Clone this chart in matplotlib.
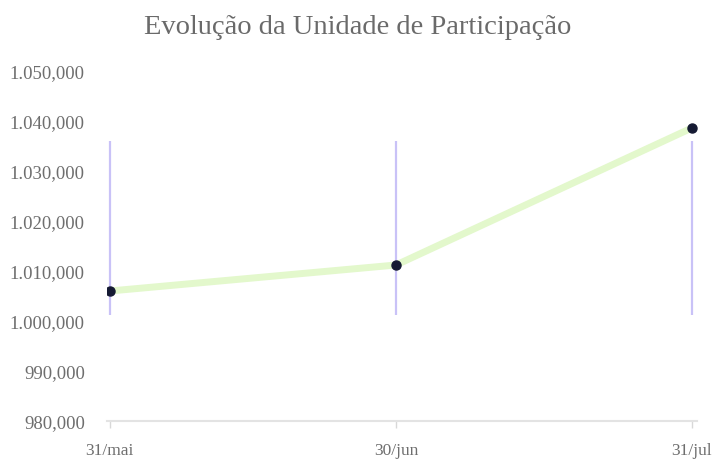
import numpy as np
import pandas as pd
import matplotlib.pyplot as plt
import matplotlib.dates as mdates

# data
dates = pd.to_datetime(["2024-05-31", "2024-06-30", "2024-07-31"])
date_labels = ["31/mai", "30/jun", "31/jul"]
unit_value = [1006000, 1011200, 1038600]
range_low = [1001200, 1001200, 1001200]
range_high = [1036000, 1036000, 1036000]

y_ticks = [980000, 990000, 1000000, 1010000, 1020000, 1030000, 1040000, 1050000]
y_tick_labels = ["980,000", "990,000", "1.000,000", "1.010,000", "1.020,000",
                 "1.030,000", "1.040,000", "1.050,000"]

plt.rcParams['font.family'] = ['Liberation Serif', 'DejaVu Serif']

fig = plt.figure(figsize=(7.15, 4.6), dpi=100)
ax = fig.add_axes([107 / 715, 1 - 422 / 460, 590 / 715, 350 / 460])

x = mdates.date2num(dates)

ax.vlines(x, range_low, range_high, color='#c9c2f7', linewidth=1.6, zorder=1)
ax.plot(x, unit_value, color='#e3f8cc', linewidth=5, solid_capstyle='round', zorder=2)
ax.plot(x, unit_value, linestyle='none', marker='o', markersize=6.5,
        color='#151a33', zorder=3)

ax.set_xlim(x[0] - 0.3, x[-1] + 0.55)
ax.set_ylim(980000, 1050000)

ax.set_xticks(x)
ax.set_xticklabels(date_labels)
ax.set_yticks(y_ticks)
ax.set_yticklabels(y_tick_labels)

for s in ['top', 'right', 'left']:
    ax.spines[s].set_visible(False)
ax.spines['bottom'].set_color('#e3e3e3')
ax.spines['bottom'].set_linewidth(1.5)

ax.tick_params(axis='y', length=0, pad=16, labelsize=13.5, labelcolor='#6e6e6e')
ax.tick_params(axis='x', length=5, width=1, color='#d8d8d8', pad=10,
               labelsize=12.5, labelcolor='#6e6e6e')

fig.text(0.5, 1 - 27 / 460, "Evolução da Unidade de Participação",
         ha='center', va='center', fontsize=20.5, color='#6a6a6a')

plt.savefig("out.png", dpi=100)
